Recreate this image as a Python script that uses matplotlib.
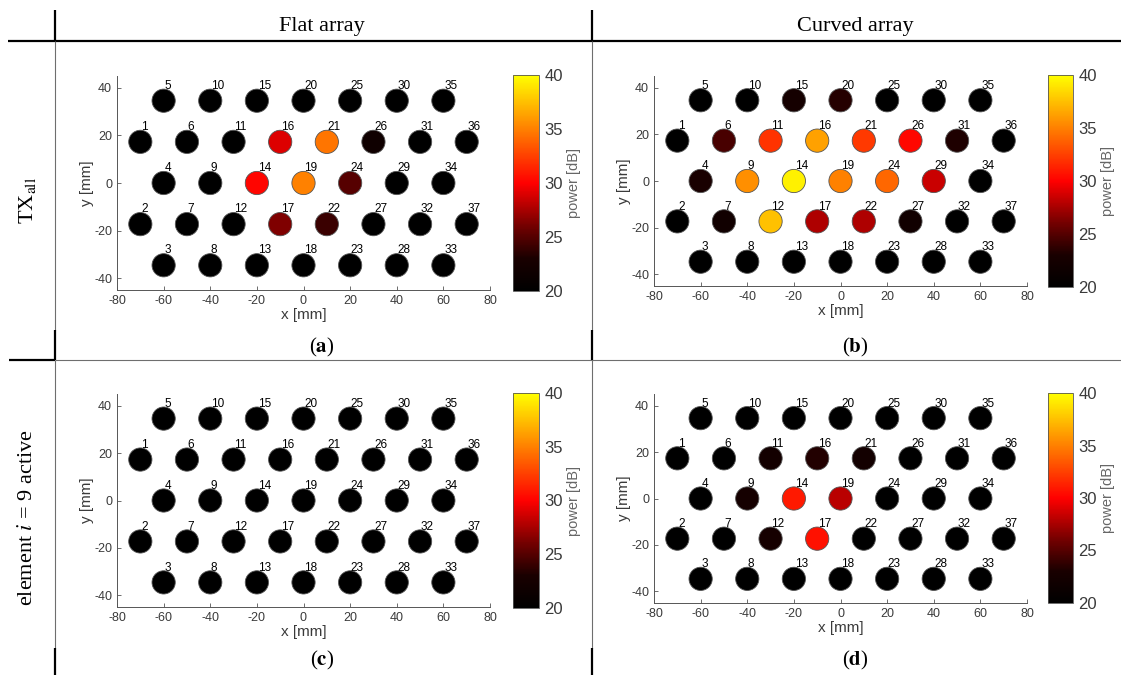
import numpy as np
import matplotlib.pyplot as plt
from matplotlib.colors import LinearSegmentedColormap
from matplotlib.lines import Line2D

# element numbers and positions of the 37-element hexagonal array [mm]
elements = list(range(1, 38))
elem_x = [-70, -70, -60, -60, -60, -50, -50, -40, -40, -40,
          -30, -30, -20, -20, -20, -10, -10, 0, 0, 0,
          10, 10, 20, 20, 20, 30, 30, 40, 40, 40,
          50, 50, 60, 60, 60, 70, 70]
elem_y = [17.3, -17.3, -34.6, 0, 34.6, 17.3, -17.3, -34.6, 0, 34.6,
          17.3, -17.3, -34.6, 0, 34.6, 17.3, -17.3, -34.6, 0, 34.6,
          17.3, -17.3, -34.6, 0, 34.6, 17.3, -17.3, -34.6, 0, 34.6,
          17.3, -17.3, -34.6, 0, 34.6, 17.3, -17.3]

# received power per element [dB], elements 1..37
power_flat_all = [20, 20, 20, 20, 20, 20, 20, 20, 20, 20,
                  20, 20, 20, 30.2, 20, 29.0, 26.4, 20, 35.0, 20,
                  34.6, 24.1, 20, 25.0, 20, 21.8, 20, 20, 20, 20,
                  20, 20, 20, 20, 20, 20, 20]
power_curved_all = [20, 20, 20, 23.0, 20, 24.6, 22.0, 20, 35.6, 20,
                    32.0, 37.5, 20, 39.4, 22.5, 36.3, 27.7, 20, 35.0, 23.4,
                    32.2, 27.7, 20, 34.0, 20, 30.3, 22.0, 20, 28.5, 20,
                    23.2, 20, 20, 20, 20, 20, 20]
power_flat_i9 = [20] * 37
power_curved_i9 = [20, 20, 20, 20, 20, 20, 20, 20, 22.5, 20,
                   22.3, 22.6, 20, 31.0, 20, 23.3, 30.7, 20, 28.0, 20,
                   22.3, 20, 20, 20, 20, 20, 20, 20, 20, 20,
                   20, 20, 20, 20, 20, 20, 20]

col_titles = ['Flat array', 'Curved array']
row_titles = [r'TX$_{\mathrm{all}}$', r'element $i$ = 9 active']
panel_tags = ['a', 'b', 'c', 'd']

plt.rcParams['font.family'] = ['Liberation Sans', 'DejaVu Sans']
plt.rcParams['mathtext.fontset'] = 'stix'
plt.rcParams['axes.unicode_minus'] = False

hot_cut = LinearSegmentedColormap.from_list('hot_cut', [
    (0.0, (0, 0, 0)), (0.15, (0.1, 0, 0)), (0.3, (0.45, 0, 0)),
    (0.5, (1, 0, 0)), (0.75, (1, 0.5, 0)), (1.0, (1, 1, 0))])

W, H = 1121, 675
fig = plt.figure(figsize=(W / 100, H / 100), dpi=100)


def rect(l, t, r, b):
    return [l / W, 1 - b / H, (r - l) / W, (b - t) / H]


# pixel boxes: axes, colorbar, tag centre
panels = [
    (power_flat_all, (117, 76, 490, 290), (513, 75, 539, 291), (322, 347)),
    (power_curved_all, (654, 76, 1027, 286), (1048, 75, 1073, 287), (855, 347)),
    (power_flat_i9, (117, 394, 490, 607), (513, 393, 539, 608), (322, 660)),
    (power_curved_i9, (654, 394, 1027, 603), (1048, 393, 1073, 603), (855, 660)),
]

grey = '#3a3a3a'
for (power, abox, cbox, tpos), tag in zip(panels, panel_tags):
    ax = fig.add_axes(rect(*abox))
    sc = ax.scatter(elem_x, elem_y, c=power, s=280, cmap=hot_cut, vmin=20, vmax=40,
                    edgecolors='#555555', linewidths=0.6, zorder=2)
    for n, x, y in zip(elements, elem_x, elem_y):
        ax.text(x + 0.3, y + 5.0, str(n), fontsize=8.5, ha='left', va='baseline', zorder=3)
    ax.set_xlim(-80, 80)
    ax.set_ylim(-45, 45)
    ax.set_xticks(np.arange(-80, 81, 20))
    ax.set_yticks([-40, -20, 0, 20, 40])
    for side in ['top', 'right']:
        ax.spines[side].set_visible(False)
    for side in ['left', 'bottom']:
        ax.spines[side].set_color('#555555')
        ax.spines[side].set_linewidth(0.7)
    ax.tick_params(direction='in', length=3, width=0.6, colors='#555555',
                   labelcolor=grey, labelsize=9)
    ax.set_xlabel('x [mm]', fontsize=11, color=grey, labelpad=1)
    ax.set_ylabel('y [mm]', fontsize=11, color=grey, labelpad=0)

    cax = fig.add_axes(rect(*cbox))
    cb = fig.colorbar(sc, cax=cax, ticks=[20, 25, 30, 35, 40])
    cb.outline.set_linewidth(0.6)
    cb.outline.set_edgecolor('#555555')
    cax.tick_params(direction='in', length=0, labelsize=12, labelcolor=grey, pad=4)
    cb.set_label('power [dB]', fontsize=10.5, color='#666666', labelpad=3)

    fig.text(tpos[0] / W, 1 - tpos[1] / H, '(' + r'$\mathbf{' + tag + '}$' + ')',
             fontsize=15, ha='center', va='center', family='Liberation Serif')

# table headers
serif = ['Liberation Serif', 'DejaVu Serif']
for xc, title in zip([322, 855], col_titles):
    fig.text(xc / W, 1 - 27 / H, title, fontsize=16, ha='center', va='center', family=serif)
for yc, title in zip([200, 518], row_titles):
    fig.text(28 / W, 1 - yc / H, title, fontsize=16, ha='center', va='center',
             rotation=90, family=serif)


def rule(x0, y0, x1, y1, thick):
    lw, col = (1.6, 'black') if thick else (0.8, '#6e6e6e')
    fig.add_artist(Line2D([x0 / W, x1 / W], [1 - y0 / H, 1 - y1 / H], lw=lw, color=col,
                          solid_capstyle='butt', transform=fig.transFigure))


rule(8, 41, W, 41, True)
rule(9, 360, 55, 360, True)
rule(55, 360, W, 360, False)
for xv in [55, 592]:
    rule(xv, 10, xv, 41, True)
    rule(xv, 41, xv, 330, False)
    rule(xv, 330, xv, 360, True)
    rule(xv, 360, xv, 648, False)
    rule(xv, 648, xv, H, True)

fig.savefig('out.png', dpi=100)
